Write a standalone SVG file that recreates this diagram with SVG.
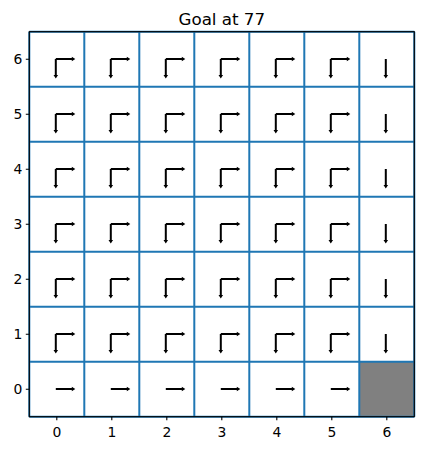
<svg xmlns="http://www.w3.org/2000/svg" xmlns:xlink="http://www.w3.org/1999/xlink" width="423" height="451" viewBox="0 0 423 451">
<style>
.grid{stroke:#1f77b4;stroke-width:2;fill:none}
.frame{stroke:#000;stroke-width:1.1;fill:none}
.tick{stroke:#000;stroke-width:1.1}
.lbl{font-family:"DejaVu Sans",sans-serif;font-size:13.9px;fill:#000}
.title{font-family:"DejaVu Sans",sans-serif;font-size:16.7px;fill:#000}
</style>
<defs>
<polygon id="r" points="0,-1 16,-1 16,-2.3 19.5,0 16,2.3 16,1 0,1" fill="#000"/>
<polygon id="d" points="-1,0 -1,16 -2.3,16 0,19.5 2.3,16 1,16 1,0" fill="#000"/>
</defs>
<rect width="423" height="451" fill="#fff"/>
<text class="title" x="221.8" y="25" text-anchor="middle">Goal at 77</text>
<g id="goal"><rect x="359.3" y="361.7" width="55" height="55" fill="#808080"/></g>
<g id="gridlines" class="grid">
<path d="M29.3,31.7V416.7M84.3,31.7V416.7M139.3,31.7V416.7M194.3,31.7V416.7M249.3,31.7V416.7M304.3,31.7V416.7M359.3,31.7V416.7M414.3,31.7V416.7"/>
<path d="M29.3,31.7H414.3M29.3,86.7H414.3M29.3,141.7H414.3M29.3,196.7H414.3M29.3,251.7H414.3M29.3,306.7H414.3M29.3,361.7H414.3M29.3,416.7H414.3"/>
</g>
<g id="arrows">
<g id="row6">
<use xlink:href="#r" x="55.8" y="59"/><use xlink:href="#d" x="55.8" y="59"/>
<use xlink:href="#r" x="110.8" y="59"/><use xlink:href="#d" x="110.8" y="59"/>
<use xlink:href="#r" x="165.8" y="59"/><use xlink:href="#d" x="165.8" y="59"/>
<use xlink:href="#r" x="220.8" y="59"/><use xlink:href="#d" x="220.8" y="59"/>
<use xlink:href="#r" x="275.8" y="59"/><use xlink:href="#d" x="275.8" y="59"/>
<use xlink:href="#r" x="330.8" y="59"/><use xlink:href="#d" x="330.8" y="59"/>
<use xlink:href="#d" x="385.8" y="59"/>
</g>
<g id="row5">
<use xlink:href="#r" x="55.8" y="114"/><use xlink:href="#d" x="55.8" y="114"/>
<use xlink:href="#r" x="110.8" y="114"/><use xlink:href="#d" x="110.8" y="114"/>
<use xlink:href="#r" x="165.8" y="114"/><use xlink:href="#d" x="165.8" y="114"/>
<use xlink:href="#r" x="220.8" y="114"/><use xlink:href="#d" x="220.8" y="114"/>
<use xlink:href="#r" x="275.8" y="114"/><use xlink:href="#d" x="275.8" y="114"/>
<use xlink:href="#r" x="330.8" y="114"/><use xlink:href="#d" x="330.8" y="114"/>
<use xlink:href="#d" x="385.8" y="114"/>
</g>
<g id="row4">
<use xlink:href="#r" x="55.8" y="169"/><use xlink:href="#d" x="55.8" y="169"/>
<use xlink:href="#r" x="110.8" y="169"/><use xlink:href="#d" x="110.8" y="169"/>
<use xlink:href="#r" x="165.8" y="169"/><use xlink:href="#d" x="165.8" y="169"/>
<use xlink:href="#r" x="220.8" y="169"/><use xlink:href="#d" x="220.8" y="169"/>
<use xlink:href="#r" x="275.8" y="169"/><use xlink:href="#d" x="275.8" y="169"/>
<use xlink:href="#r" x="330.8" y="169"/><use xlink:href="#d" x="330.8" y="169"/>
<use xlink:href="#d" x="385.8" y="169"/>
</g>
<g id="row3">
<use xlink:href="#r" x="55.8" y="224"/><use xlink:href="#d" x="55.8" y="224"/>
<use xlink:href="#r" x="110.8" y="224"/><use xlink:href="#d" x="110.8" y="224"/>
<use xlink:href="#r" x="165.8" y="224"/><use xlink:href="#d" x="165.8" y="224"/>
<use xlink:href="#r" x="220.8" y="224"/><use xlink:href="#d" x="220.8" y="224"/>
<use xlink:href="#r" x="275.8" y="224"/><use xlink:href="#d" x="275.8" y="224"/>
<use xlink:href="#r" x="330.8" y="224"/><use xlink:href="#d" x="330.8" y="224"/>
<use xlink:href="#d" x="385.8" y="224"/>
</g>
<g id="row2">
<use xlink:href="#r" x="55.8" y="279"/><use xlink:href="#d" x="55.8" y="279"/>
<use xlink:href="#r" x="110.8" y="279"/><use xlink:href="#d" x="110.8" y="279"/>
<use xlink:href="#r" x="165.8" y="279"/><use xlink:href="#d" x="165.8" y="279"/>
<use xlink:href="#r" x="220.8" y="279"/><use xlink:href="#d" x="220.8" y="279"/>
<use xlink:href="#r" x="275.8" y="279"/><use xlink:href="#d" x="275.8" y="279"/>
<use xlink:href="#r" x="330.8" y="279"/><use xlink:href="#d" x="330.8" y="279"/>
<use xlink:href="#d" x="385.8" y="279"/>
</g>
<g id="row1">
<use xlink:href="#r" x="55.8" y="334"/><use xlink:href="#d" x="55.8" y="334"/>
<use xlink:href="#r" x="110.8" y="334"/><use xlink:href="#d" x="110.8" y="334"/>
<use xlink:href="#r" x="165.8" y="334"/><use xlink:href="#d" x="165.8" y="334"/>
<use xlink:href="#r" x="220.8" y="334"/><use xlink:href="#d" x="220.8" y="334"/>
<use xlink:href="#r" x="275.8" y="334"/><use xlink:href="#d" x="275.8" y="334"/>
<use xlink:href="#r" x="330.8" y="334"/><use xlink:href="#d" x="330.8" y="334"/>
<use xlink:href="#d" x="385.8" y="334"/>
</g>
<g id="row0">
<use xlink:href="#r" x="55.8" y="389"/>
<use xlink:href="#r" x="110.8" y="389"/>
<use xlink:href="#r" x="165.8" y="389"/>
<use xlink:href="#r" x="220.8" y="389"/>
<use xlink:href="#r" x="275.8" y="389"/>
<use xlink:href="#r" x="330.8" y="389"/>
</g>
</g>
<rect class="frame" x="29.3" y="31.7" width="385" height="385"/>
<g id="xticks">
<path class="tick" d="M56.8,416.7v3.5M111.8,416.7v3.5M166.8,416.7v3.5M221.8,416.7v3.5M276.8,416.7v3.5M331.8,416.7v3.5M386.8,416.7v3.5"/>
<text class="lbl" text-anchor="middle" y="437"><tspan x="56.8">0</tspan><tspan x="111.8">1</tspan><tspan x="166.8">2</tspan><tspan x="221.8">3</tspan><tspan x="276.8">4</tspan><tspan x="331.8">5</tspan><tspan x="386.8">6</tspan></text>
</g>
<g id="yticks">
<path class="tick" d="M25.8,59.2h3.5M25.8,114.2h3.5M25.8,169.2h3.5M25.8,224.2h3.5M25.8,279.2h3.5M25.8,334.2h3.5M25.8,389.2h3.5"/>
<text class="lbl" text-anchor="end" x="22.3" y="64.2">6</text>
<text class="lbl" text-anchor="end" x="22.3" y="119.2">5</text>
<text class="lbl" text-anchor="end" x="22.3" y="174.2">4</text>
<text class="lbl" text-anchor="end" x="22.3" y="229.2">3</text>
<text class="lbl" text-anchor="end" x="22.3" y="284.2">2</text>
<text class="lbl" text-anchor="end" x="22.3" y="339.2">1</text>
<text class="lbl" text-anchor="end" x="22.3" y="394.2">0</text>
</g>
</svg>
